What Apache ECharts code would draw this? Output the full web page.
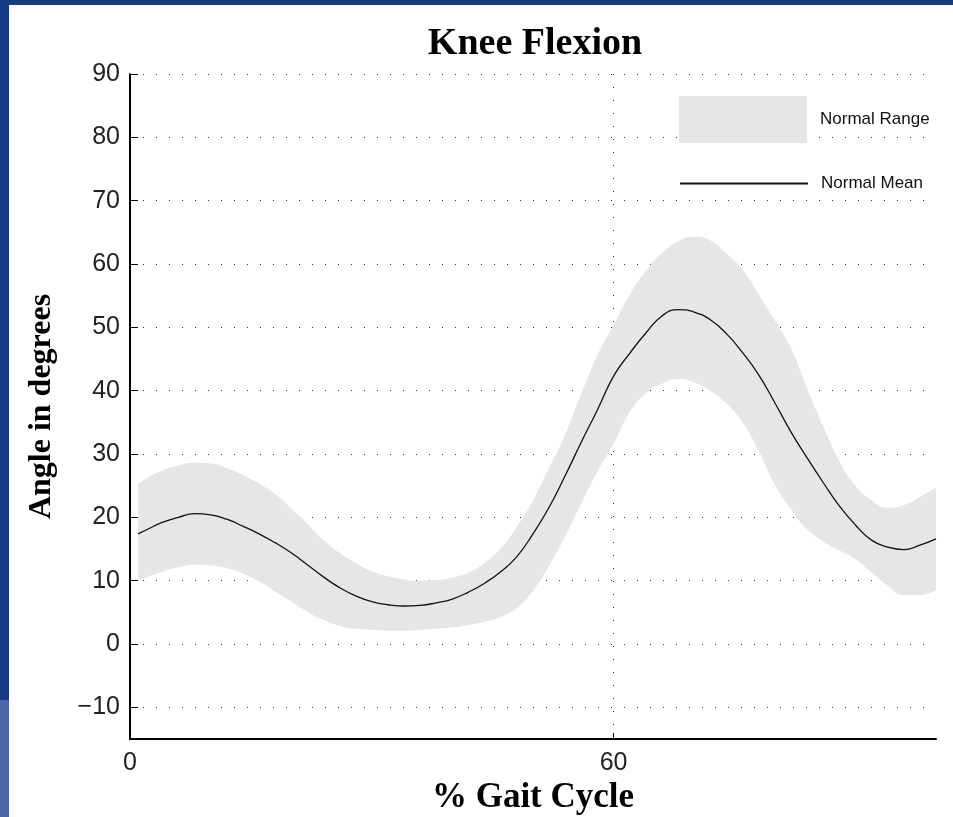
<!DOCTYPE html>
<html>
<head>
<meta charset="utf-8">
<title>Knee Flexion</title>
<script src="https://cdn.jsdelivr.net/npm/echarts@6/dist/echarts.min.js"></script>
<style>
  html, body { margin: 0; padding: 0; background: #fff; }
  #chart { position: absolute; left: 0; top: 0; width: 953px; height: 817px; }
  .edge-top { position: absolute; left: 0; top: 0; width: 953px; height: 5px; background: #183a85; }
  .edge-left { position: absolute; left: 0; top: 0; width: 9px; height: 700px; background: #183a85; }
  .edge-left-low { position: absolute; left: 0; top: 700px; width: 9px; height: 117px; background: #4a67a5; }
</style>
</head>
<body>
<div id="chart"></div>
<div class="edge-top"></div>
<div class="edge-left"></div>
<div class="edge-left-low"></div>
<script>
// % of gait cycle
const pct = [1, 2, 4, 6, 8, 10, 12, 14, 16, 18, 20, 22, 24, 26, 28, 30, 32, 34, 36, 38, 40,
  42, 44, 46, 48, 50, 52, 54, 56, 58, 60, 62, 64, 66, 68, 70, 72, 74, 76, 78, 80,
  82, 84, 86, 88, 90, 92, 94, 96, 98, 100];

// knee angle, degrees
const meanVals = [17.4, 18.0, 19.2, 20.0, 20.6, 20.4, 19.7, 18.6, 17.4, 16.0, 14.4, 12.5, 10.6, 8.9, 7.6, 6.7, 6.2, 6.0, 6.1, 6.5, 7.1,
  8.2, 9.6, 11.4, 13.8, 17.4, 21.6, 26.6, 31.9, 37.0, 42.3, 45.9, 49.1, 51.8, 52.8, 52.4, 51.2, 49.0, 46.0, 42.5, 38.1,
  33.5, 29.4, 25.5, 21.8, 18.8, 16.4, 15.3, 14.9, 15.6, 16.6];
const upperVals = [25.3, 26.1, 27.4, 28.2, 28.6, 28.5, 27.8, 26.7, 25.3, 23.7, 21.4, 19.0, 16.4, 14.4, 12.8, 11.5, 10.7, 10.2, 10.0, 10.1, 10.5,
  11.3, 12.8, 15.1, 18.5, 22.7, 27.8, 33.1, 39.5, 45.6, 50.4, 55.1, 58.9, 61.7, 63.6, 64.3, 63.7, 61.6, 59.1, 55.2, 51.1,
  46.7, 40.4, 34.4, 28.9, 25.0, 22.7, 21.5, 21.9, 23.2, 24.7];
const lowerVals = [10.1, 10.5, 11.4, 12.1, 12.5, 12.4, 12.0, 11.1, 9.9, 8.3, 6.7, 5.1, 3.8, 2.9, 2.4, 2.2, 2.1, 2.1, 2.2, 2.4, 2.6,
  3.0, 3.5, 4.3, 5.7, 8.4, 12.3, 17.0, 22.2, 27.2, 31.6, 36.6, 39.6, 41.1, 41.8, 41.3, 40.0, 38.0, 35.0, 30.5, 25.2,
  21.3, 18.1, 16.2, 14.8, 13.4, 11.3, 9.2, 7.7, 7.7, 8.5];

const xTicks = [0, 60];
const yTicks = [-10, 0, 10, 20, 30, 40, 50, 60, 70, 80, 90];

const chart = echarts.init(document.getElementById('chart'));

const dotted = { color: '#333', width: 1, type: [1, 12] };
const serif = '"Liberation Serif", "Times New Roman", serif';
const sans = '"Liberation Sans", Arial, Helvetica, sans-serif';

// angle goes in dim 0 so the band stacks on the angle, not on the gait %
const bandEncode = { x: 1, y: 0 };

chart.setOption({
  animation: false,
  backgroundColor: '#fff',
  title: {
    text: 'Knee Flexion',
    left: 530,
    top: 20,
    textAlign: 'center',
    textStyle: { fontFamily: serif, fontWeight: 'bold', fontSize: 38, color: '#000' },
  },
  legend: [
    {
      left: 679, top: 96, padding: 0,
      itemWidth: 128, itemHeight: 47,
      selectedMode: false,
      data: [{ name: 'Normal Range', icon: 'rect', itemStyle: { color: '#e6e6e6' } }],
      textStyle: { fontFamily: sans, fontSize: 17, color: '#111', padding: [0, 0, 0, 8] },
    },
    {
      left: 679, top: 175, padding: 0,
      itemWidth: 128, itemHeight: 20,
      selectedMode: false,
      data: [{ name: 'Normal Mean', itemStyle: { opacity: 0 } }],
      textStyle: { fontFamily: sans, fontSize: 17, color: '#111', padding: [0, 0, 0, 8] },
    },
  ],
  grid: { left: 130, right: 17, top: 74, bottom: 78, containLabel: false, outerBoundsMode: 'none' },
  xAxis: {
    type: 'value',
    min: 0,
    max: 100,
    name: '% Gait Cycle',
    nameLocation: 'middle',
    nameGap: 33,
    nameTextStyle: { fontFamily: serif, fontWeight: 'bold', fontSize: 35, color: '#000' },
    axisLine: { onZero: false, lineStyle: { color: '#000', width: 2 } },
    axisTick: { inside: true, length: 6, customValues: xTicks, lineStyle: { color: '#000' } },
    axisLabel: { customValues: xTicks, margin: 12, fontFamily: sans, fontSize: 25, color: '#222' },
    splitLine: { show: true, lineStyle: dotted },
  },
  yAxis: {
    type: 'value',
    min: -15,
    max: 90,
    name: 'Angle in degrees',
    nameLocation: 'middle',
    nameGap: 72,
    nameTextStyle: { fontFamily: serif, fontWeight: 'bold', fontSize: 32, color: '#000' },
    axisLine: { show: true, onZero: false, lineStyle: { color: '#000', width: 2 } },
    axisTick: { show: true, inside: true, length: 8, customValues: yTicks, lineStyle: { color: '#000' } },
    axisLabel: {
      customValues: yTicks,
      margin: 10,
      fontFamily: sans,
      fontSize: 25,
      color: '#222',
      formatter: (v) => String(v).replace('-', '\u2212'),
    },
    splitLine: { show: true, lineStyle: dotted },
  },
  series: [
    {
      name: 'lower',
      type: 'line',
      stack: 'band',
      smooth: true,
      symbol: 'none',
      silent: true,
      encode: bandEncode,
      lineStyle: { opacity: 0 },
      data: pct.map((x, i) => [lowerVals[i], x]),
    },
    {
      name: 'Normal Range',
      type: 'line',
      stack: 'band',
      smooth: true,
      symbol: 'none',
      silent: true,
      encode: bandEncode,
      lineStyle: { opacity: 0 },
      itemStyle: { color: '#e6e6e6' },
      areaStyle: { color: '#e6e6e6', opacity: 1 },
      data: pct.map((x, i) => [upperVals[i] - lowerVals[i], x]),
    },
    {
      name: 'Normal Mean',
      type: 'line',
      smooth: true,
      symbol: 'none',
      silent: true,
      itemStyle: { color: '#111' },
      lineStyle: { color: '#111', width: 1.3 },
      data: pct.map((x, i) => [x, meanVals[i]]),
    },
  ],
});
</script>
</body>
</html>
